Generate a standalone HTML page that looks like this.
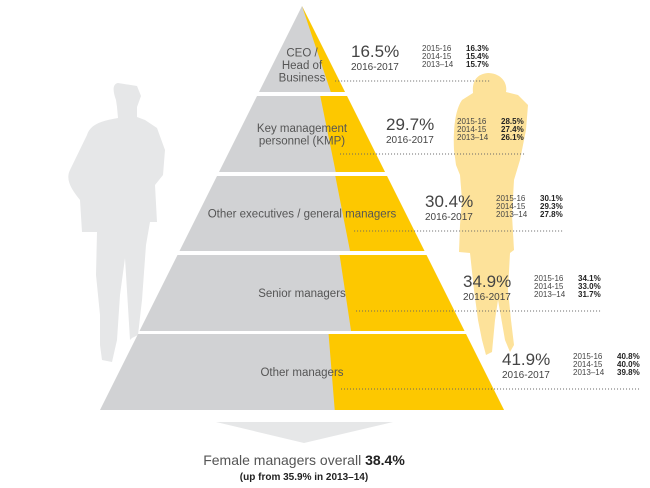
<!DOCTYPE html>
<html><head><meta charset="utf-8"><style>
html,body{margin:0;padding:0;background:#fff;}
svg{display:block;font-family:"Liberation Sans",sans-serif;}
</style></head><body>
<svg id="chart" width="650" height="488" viewBox="0 0 650 488" xmlns="http://www.w3.org/2000/svg">
<path fill="#e6e7e8" d="M118,83 C112,84 113,92 116,100 L117,107 L118,118 C100,121 90,125 87,135 L70,170 C65,180 72,190 80,200 L82,232 L97,232 L96,275 L100,315 L100,345 L102,360 L112,362 L117,340 L120,295 L125,258 L130,340 L132,338 L138,335 L142,300 L146,245 L150,222 L157,222 L155,185 L163,175 L165,150 L157,128 L145,120 L137,117 L137,107 L141,96 L137,86 Z"/>
<path fill="#fde29a" d="M488,73 C476,74 472,82 473,93 L462,100 C455,110 453,130 454,150 L456,165 L460,175 L462,200 L460,225 L459,252 L470,253 L474,290 L478,320 L482,340 L486,355 L492,352 L495,320 L498,300 L505,340 L510,352 L514,345 L511,320 L508,290 L510,253 L514,250 L512,215 L514,180 L520,160 L526,130 L528,105 L518,95 L506,92 C508,82 500,73 488,73 Z"/>
<g id="tiers"></g>
<g id="labels"></g>
<path fill="#e6e7e8" d="M216,422 L393,422 L304,443 Z"/>
<text x="304" y="465" text-anchor="middle" font-size="14" fill="#555">Female managers overall <tspan font-weight="bold" fill="#222">38.4%</tspan></text>
<text x="304" y="480" text-anchor="middle" font-size="10" font-weight="bold" fill="#222">(up from 35.9% in 2013–14)</text>
</svg>
<script>
const tierNames = [["CEO /","Head of","Business"],["Key management","personnel (KMP)"],["Other executives / general managers"],["Senior managers"],["Other managers"]];
const current = [16.5, 29.7, 30.4, 34.9, 41.9];
const prev1516 = [16.3, 28.5, 30.1, 34.1, 40.8];
const prev1415 = [15.4, 27.4, 29.3, 33.0, 40.0];
const prev1314 = [15.7, 26.1, 27.8, 31.7, 39.8];
const yearLabels = ["2015-16","2014-15","2013–14"];

const NS="http://www.w3.org/2000/svg";
const apexX=302, apexY=6, baseY=410;
const tierTop=[6,96,176,255,334], tierBot=[92,172,251,331,410];
function hw(y){return (y-apexY)/2*(202/202);}
function leftX(y){return apexX-hw(y);}
function rightX(y){return apexX+hw(y);}
function splitX(y,v){return rightX(y)-(v/100)*(rightX(y)-leftX(y));}
function mk(tag,attrs,parent){const e=document.createElementNS(NS,tag);for(const k in attrs)e.setAttribute(k,attrs[k]);parent.appendChild(e);return e;}
const gT=document.getElementById('tiers'), gL=document.getElementById('labels');
const textX=[351,386,425,463,502];
for(let i=0;i<current.length;i++){
  const t=tierTop[i], b=tierBot[i], v=current[i];
  const g=mk('path',{d:`M${leftX(t)},${t} L${rightX(t)},${t} L${rightX(b)},${b} L${leftX(b)},${b} Z`,fill:'#d1d2d4'},gT);
  
  
  const y=mk('path',{d:`M${splitX(t,v)},${t} L${rightX(t)},${t} L${rightX(b)},${b} L${splitX(b,v)},${b} Z`,fill:'#fdc800'},gT);
  
  
  // tier name
  const lines=tierNames[i];
  const mid=i===0?69:(t+b)/2+4;
  lines.forEach((ln,j)=>{
    const tx=mk('text',{x:302,y:mid+(j-(lines.length-1)/2)*12.5,'text-anchor':'middle','font-size':11.5,fill:'#555'},gL);
    
    
    tx.textContent=ln;
  });
  const x=textX[i], base=b-35+ (i===0?0:0);
  const py=[57,130,207,287,365][i];
  const pt=mk('text',{x:x,y:py,'font-size':17,fill:'#444'},gL);
  
  
  pt.textContent=v.toFixed(1)+'%';
  const yr=mk('text',{x:x,y:py+13,'font-size':10,fill:'#444'},gL);
  
  
  yr.textContent='2016-2017';
  const tx0=x+71, vals=[prev1516[i],prev1415[i],prev1314[i]];
  for(let r=0;r<3;r++){
    const ry=py-6+r*8;
    const a=mk('text',{x:tx0,y:ry,'font-size':8,fill:'#444'},gL);
    
    
    a.textContent=yearLabels[r];
    const c=mk('text',{x:tx0+44,y:ry,'font-size':8,'font-weight':'bold',fill:'#222'},gL);
    
    
    c.textContent=vals[r].toFixed(1)+'%';
  }
  const dy=py+24;
  const dl=mk('line',{x1:splitX(dy,v)+8,y1:dy,x2:tx0+68,y2:dy,stroke:'#666','stroke-width':1,'stroke-dasharray':'1,2'},gL);
  
  
}
</script>
</body></html>
